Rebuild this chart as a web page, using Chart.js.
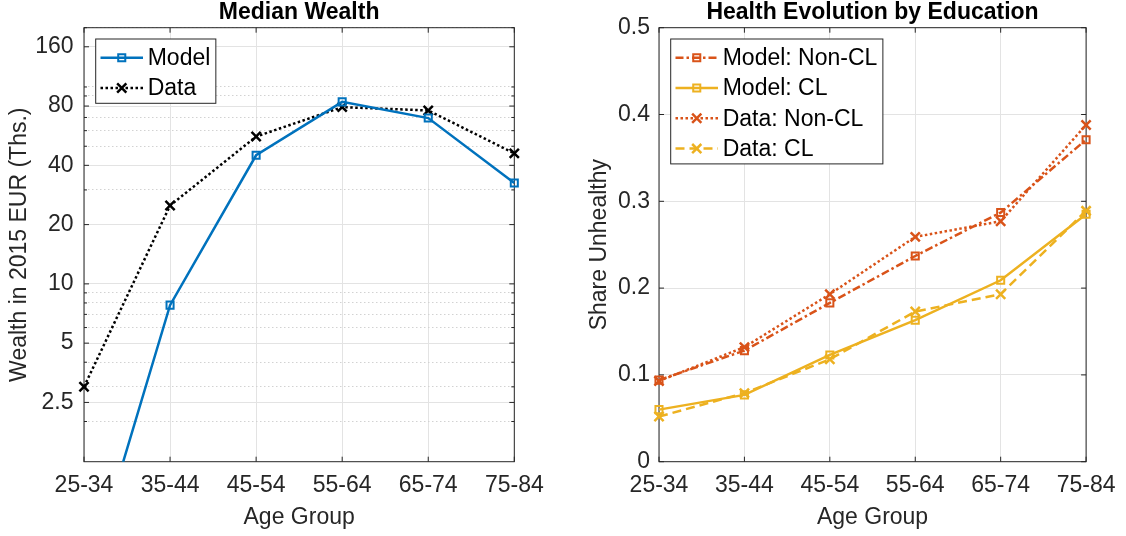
<!DOCTYPE html>
<html>
<head>
<meta charset="utf-8">
<script src="https://cdn.jsdelivr.net/npm/chart.js@4.4.1/dist/chart.umd.min.js"></script>
<style>
  html, body { margin: 0; padding: 0; background: #fff; }
  #wrap { position: relative; width: 1126px; height: 536px; overflow: hidden; }
  .panel { position: absolute; top: 0; height: 536px; }
  #left  { left: 0;     width: 560px; }
  #right { left: 560px; width: 566px; }
</style>
</head>
<body>
<div id="wrap">
  <div class="panel" id="left"><canvas id="wealthChart"></canvas></div>
  <div class="panel" id="right"><canvas id="healthChart"></canvas></div>
</div>
<script>
// Categories
const ageGroups = ['25-34', '35-44', '45-54', '55-64', '65-74', '75-84'];

// Median wealth, thousands of 2015 EUR (log axis)
const wealthModel = [0.27, 7.8, 45, 84, 69.5, 32.5];
const wealthData  = [3.0, 25, 56, 79, 76, 46];
const wealthTicksMajor = [2.5, 5, 10, 20, 40, 80, 160];
const wealthTicksMinor = [2, 3, 4, 6, 7, 8, 9, 30, 50, 60, 70, 90, 100, 200];

// Share unhealthy by education
const healthModelNonCL = [0.094, 0.128, 0.183, 0.237, 0.287, 0.371];
const healthModelCL    = [0.060, 0.077, 0.123, 0.163, 0.209, 0.285];
const healthDataNonCL  = [0.093, 0.132, 0.193, 0.259, 0.277, 0.388];
const healthDataCL     = [0.052, 0.079, 0.118, 0.173, 0.193, 0.289];
const healthTicks = [0, 0.1, 0.2, 0.3, 0.4, 0.5];

const FONT = "'Liberation Sans', Arial, Helvetica, sans-serif";
const FS = 23;
const AXIS = '#262626';
const GRID = '#e3e3e3';
const MINOR_GRID = '#d2d2d2';
const BLUE = '#0072BD', ORANGE = '#D95319', YELLOW = '#EDB120';

Chart.defaults.font.family = FONT;
Chart.defaults.font.size = FS;
Chart.defaults.color = AXIS;

const majorSet = new Set(wealthTicksMajor);

// axes box + inward tick marks, MATLAB style
const boxPlugin = {
  id: 'matlabBox',
  beforeDatasetsDraw(chart) {
    const { ctx, chartArea: a, scales: { x, y } } = chart;
    ctx.save();
    ctx.strokeStyle = AXIS;
    ctx.lineWidth = 1;
    ctx.setLineDash([]);
    ctx.strokeRect(a.left, a.top, a.right - a.left, a.bottom - a.top);
    ctx.beginPath();
    x.ticks.forEach((t, i) => {
      const px = x.getPixelForTick(i);
      ctx.moveTo(px, a.bottom); ctx.lineTo(px, a.bottom - 5);
      ctx.moveTo(px, a.top);    ctx.lineTo(px, a.top + 5);
    });
    y.ticks.forEach(t => {
      const py = y.getPixelForValue(t.value);
      const len = (y.type !== 'logarithmic' || majorSet.has(t.value)) ? 5 : 3;
      ctx.moveTo(a.left, py);  ctx.lineTo(a.left + len, py);
      ctx.moveTo(a.right, py); ctx.lineTo(a.right - len, py);
    });
    ctx.stroke();
    ctx.restore();
  }
};

// boxed legend with line sample + marker
const legendPlugin = {
  id: 'boxLegend',
  afterDatasetsDraw(chart) {
    const { ctx, chartArea: a } = chart;
    const items = chart.data.datasets;
    const rowH = 30.3, sample = 42.5;
    ctx.save();
    ctx.font = FS + 'px ' + FONT;
    const textW = Math.max(...items.map(d => ctx.measureText(d.label).width));
    const bx = a.left + 11.7, by = a.top + 11.3;
    const bw = 52 + textW + 5.5;
    const bh = items.length * rowH + 3.7;
    ctx.fillStyle = '#fff';
    ctx.fillRect(bx, by, bw, bh);
    ctx.strokeStyle = AXIS;
    ctx.lineWidth = 1;
    ctx.strokeRect(bx, by, bw, bh);
    items.forEach((d, i) => {
      const cy = by + 18.7 + i * rowH;
      const x0 = bx + 4.8;
      ctx.strokeStyle = d.borderColor;
      ctx.lineWidth = d.borderWidth;
      ctx.setLineDash(d.borderDash || []);
      ctx.beginPath();
      ctx.moveTo(x0, cy); ctx.lineTo(x0 + sample, cy);
      ctx.stroke();
      ctx.setLineDash([]);
      ctx.fillStyle = 'rgba(0,0,0,0)';
      ctx.lineWidth = d.pointBorderWidth;
      Chart.helpers.drawPoint(ctx, {
        pointStyle: d.pointStyle, radius: d.pointRadius, rotation: 0, borderWidth: d.pointBorderWidth
      }, x0 + sample / 2, cy);
      ctx.fillStyle = '#000';
      ctx.textBaseline = 'middle';
      ctx.textAlign = 'left';
      ctx.fillText(d.label, bx + 52, cy + 1);
    });
    ctx.restore();
  }
};

function xScale() {
  return {
    type: 'category',
    offset: false,
    grid: { color: GRID, drawTicks: false },
    border: { display: false },
    ticks: { padding: 10.5, color: AXIS, autoSkip: false, maxRotation: 0 },
    title: { display: true, text: 'Age Group', color: AXIS, padding: { top: 0, bottom: 4.9 } },
    afterFit: s => { s.height = 74.3; }
  };
}

function lineSet(label, data, color, dash, style, radius, pw) {
  return {
    label, data,
    borderColor: color,
    borderWidth: 2.5,
    borderDash: dash,
    pointStyle: style,
    pointRadius: radius,
    pointBorderWidth: pw,
    pointBorderColor: color,
    pointBackgroundColor: 'rgba(255,255,255,0)',
    tension: 0,
    fill: false
  };
}

function titleOpts(text) {
  return {
    display: true, text, color: '#000', fullSize: false,
    font: { size: FS, weight: 'bold', lineHeight: 1 },
    padding: { top: 1.5, bottom: 3.2 }
  };
}

const common = {
  responsive: true,
  maintainAspectRatio: false,
  animation: false,
  devicePixelRatio: 1,
  events: []
};

new Chart(document.getElementById('wealthChart'), {
  type: 'line',
  data: {
    labels: ageGroups,
    datasets: [
      lineSet('Model', wealthModel, BLUE, [], 'rect', 5, 2),
      lineSet('Data', wealthData, '#000', [2.5, 2.5], 'crossRot', 6.5, 2.5)
    ]
  },
  options: {
    ...common,
    layout: { padding: { left: 0, right: 45.7, top: 0, bottom: 0 } },
    plugins: {
      legend: { display: false },
      tooltip: { enabled: false },
      title: titleOpts('Median Wealth')
    },
    scales: {
      x: xScale(),
      y: {
        type: 'logarithmic',
        min: 1.25,
        max: 200,
        afterBuildTicks: s => {
          s.ticks = [...wealthTicksMajor, ...wealthTicksMinor.filter(v => !majorSet.has(v))]
            .sort((p, q) => p - q)
            .map(v => ({ value: v }));
        },
        ticks: {
          autoSkip: false, padding: 10.5, color: AXIS,
          callback: v => majorSet.has(v) ? String(v) : ''
        },
        grid: {
          drawTicks: false,
          color: c => (c.tick && !majorSet.has(c.tick.value)) ? MINOR_GRID : GRID
        },
        border: {
          display: false,
          dash: c => (c.tick && !majorSet.has(c.tick.value)) ? [1.5, 2.5] : []
        },
        title: { display: true, text: 'Wealth in 2015 EUR (Ths.)', color: AXIS, padding: { top: 6.2, bottom: 0 } },
        afterFit: s => { s.width = 84; }
      }
    }
  },
  plugins: [boxPlugin, legendPlugin]
});

new Chart(document.getElementById('healthChart'), {
  type: 'line',
  data: {
    labels: ageGroups,
    datasets: [
      lineSet('Model: Non-CL', healthModelNonCL, ORANGE, [8, 3, 2.5, 3], 'rect', 5, 2),
      lineSet('Model: CL', healthModelCL, YELLOW, [], 'rect', 5, 2),
      lineSet('Data: Non-CL', healthDataNonCL, ORANGE, [2.5, 2.5], 'crossRot', 6.5, 2.5),
      lineSet('Data: CL', healthDataCL, YELLOW, [9, 5], 'crossRot', 6.5, 2.5)
    ]
  },
  options: {
    ...common,
    layout: { padding: { left: 0, right: 36.7, top: 0, bottom: 0 } },
    plugins: {
      legend: { display: false },
      tooltip: { enabled: false },
      title: titleOpts('Health Evolution by Education')
    },
    scales: {
      x: xScale(),
      y: {
        type: 'linear',
        min: 0,
        max: 0.5,
        afterBuildTicks: s => { s.ticks = healthTicks.map(v => ({ value: v })); },
        ticks: { autoSkip: false, padding: 9, color: AXIS, callback: v => String(v) },
        grid: { drawTicks: false, color: GRID },
        border: { display: false },
        title: { display: true, text: 'Share Unhealthy', color: AXIS, padding: { top: 26.2, bottom: 0 } },
        afterFit: s => { s.width = 99; }
      }
    }
  },
  plugins: [boxPlugin, legendPlugin]
});
</script>
</body>
</html>
